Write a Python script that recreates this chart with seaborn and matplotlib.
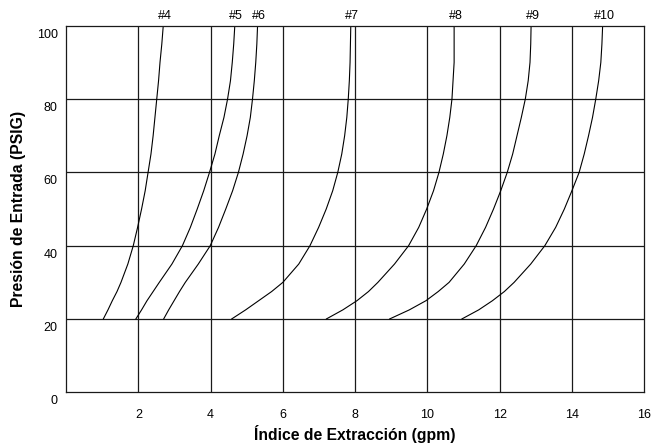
import matplotlib
matplotlib.use("Agg")
import matplotlib.pyplot as plt
import matplotlib.transforms as mtransforms
import numpy as np
import pandas as pd
import seaborn as sns

# ---- data ----
models = ["#4", "#5", "#6", "#7", "#8", "#9", "#10"]
pressure = [20, 22.5, 25, 27.5, 30, 35, 40, 45, 50, 55, 60, 65, 70, 75, 80, 85, 90, 95, 100]
flow_4 = [1.03, 1.16, 1.28, 1.41, 1.52, 1.71, 1.86, 1.98, 2.09, 2.19, 2.27, 2.35, 2.41, 2.46, 2.51, 2.56, 2.60, 2.65, 2.69]
flow_5 = [1.93, 2.09, 2.24, 2.41, 2.58, 2.93, 3.22, 3.44, 3.63, 3.81, 3.97, 4.12, 4.24, 4.37, 4.47, 4.55, 4.60, 4.64, 4.67]
flow_6 = [2.70, 2.84, 2.99, 3.14, 3.30, 3.66, 3.99, 4.22, 4.42, 4.61, 4.77, 4.90, 5.01, 5.10, 5.16, 5.21, 5.25, 5.28, 5.30]
flow_7 = [4.58, 4.97, 5.33, 5.69, 6.00, 6.44, 6.75, 6.99, 7.20, 7.38, 7.52, 7.63, 7.71, 7.77, 7.81, 7.84, 7.86, 7.87, 7.88]
flow_8 = [7.20, 7.66, 8.05, 8.37, 8.63, 9.09, 9.48, 9.76, 9.98, 10.17, 10.32, 10.44, 10.54, 10.62, 10.68, 10.71, 10.74, 10.74, 10.74]
flow_9 = [8.95, 9.50, 9.96, 10.30, 10.60, 11.02, 11.35, 11.61, 11.83, 12.03, 12.21, 12.36, 12.48, 12.60, 12.71, 12.79, 12.84, 12.86, 12.87]
flow_10 = [10.95, 11.42, 11.80, 12.13, 12.40, 12.86, 13.25, 13.55, 13.79, 14.00, 14.20, 14.34, 14.46, 14.57, 14.66, 14.74, 14.80, 14.83, 14.85]
x_ticks = [2, 4, 6, 8, 10, 12, 14, 16]
y_ticks = [0, 20, 40, 60, 80, 100]
x_label = "Índice de Extracción (gpm)"
y_label = "Presión de Entrada (PSIG)"

flows = [flow_4, flow_5, flow_6, flow_7, flow_8, flow_9, flow_10]
df = pd.DataFrame({
    "modelo": np.repeat(models, len(pressure)),
    "gpm": np.concatenate(flows),
    "psig": np.tile(pressure, len(models)),
})

sns.set_style("white")
plt.rcParams["font.family"] = ["Liberation Sans", "DejaVu Sans"]
plt.rcParams["text.color"] = "black"
plt.rcParams["axes.labelcolor"] = "black"
plt.rcParams["xtick.color"] = "black"
plt.rcParams["ytick.color"] = "black"

fig = plt.figure(figsize=(6.54, 4.47), dpi=100)
ax = fig.add_axes([0.101, 0.1222, 0.884, 0.8203])

sns.lineplot(data=df, x="gpm", y="psig", units="modelo", estimator=None,
             sort=False, color="black", linewidth=0.8, ax=ax, legend=False)

ax.set_xlim(0, 16)
ax.set_ylim(0, 100)

# grid
for gx in [2, 4, 6, 8, 10, 12, 14]:
    ax.axvline(gx, color="#1a1a1a", linewidth=0.9, zorder=0)
for gy in [20, 40, 60, 80]:
    ax.axhline(gy, color="#1a1a1a", linewidth=0.9, zorder=0)

for s in ax.spines.values():
    s.set_color("#1a1a1a")
    s.set_linewidth(0.9)

ax.set_xticks(x_ticks)
ax.set_xticklabels([str(v) for v in x_ticks], fontsize=9)
ax.set_yticks(y_ticks)
ax.set_yticklabels([str(v) for v in y_ticks], fontsize=9)
ax.tick_params(axis="both", length=0, colors="black")
ax.tick_params(axis="x", pad=12)
ax.tick_params(axis="y", pad=6)

offset = mtransforms.ScaledTranslation(0, -7.5 / 100, fig.dpi_scale_trans)
for lab in ax.get_yticklabels():
    lab.set_transform(lab.get_transform() + offset)

ax.set_xlabel(x_label, fontsize=11.3, fontweight="bold", labelpad=3, color="black")
ax.set_ylabel(y_label, fontsize=11.3, fontweight="bold", labelpad=8, color="black")

# curve labels above the top of each curve
for name, f in zip(models, flows):
    ax.annotate(name, xy=(f[-1], 100), xytext=(1, 3), textcoords="offset points",
                ha="center", va="bottom", fontsize=9, color="black",
                annotation_clip=False)

fig.savefig("out.png", dpi=100)
